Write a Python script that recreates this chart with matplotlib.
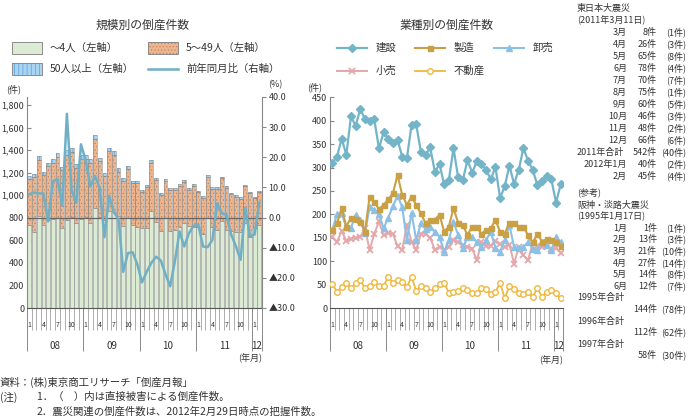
import matplotlib
matplotlib.use('Agg')
import matplotlib.pyplot as plt
import matplotlib.transforms as mtransforms
import numpy as np
from matplotlib.patches import Rectangle
from matplotlib.lines import Line2D
from matplotlib.ticker import FuncFormatter

plt.rcParams['font.family'] = ['Noto Sans CJK JP', 'DejaVu Sans']
plt.rcParams['hatch.linewidth'] = 0.5

# ---------------- data ----------------
years = ["08", "09", "10", "11", "12"]
year_months = [12, 12, 12, 12, 2]
month_marks = ["1", "4", "7", "10"]

# 規模別 (件)
small = [735, 675, 815, 735, 780, 785, 800, 710, 780, 805, 755, 790,
         808, 750, 883, 808, 780, 862, 853, 815, 730, 797, 735, 720,
         708, 708, 862, 760, 685, 795, 680, 695, 720, 750, 725, 720,
         715, 660, 795, 720, 690, 775, 690, 680, 670, 673, 750, 630,
         705, 735]
mid = [405, 485, 495, 445, 480, 505, 540, 510, 575, 575, 490, 535,
       512, 540, 612, 492, 390, 528, 507, 395, 395, 438, 370, 390,
       322, 362, 428, 375, 320, 335, 370, 355, 365, 370, 320, 365,
       310, 315, 370, 335, 365, 375, 375, 328, 318, 295, 333, 388,
       268, 293]
large = [30, 30, 35, 30, 30, 30, 30, 30, 45, 40, 35, 35,
         40, 30, 40, 30, 30, 30, 30, 30, 25, 25, 25, 20,
         20, 20, 20, 15, 15, 15, 15, 15, 15, 15, 15, 15,
         15, 15, 15, 15, 15, 15, 15, 12, 12, 12, 12, 12,
         12, 12]
# 前年同月比 (%)
yoy = [7.7, 8.3, 8.0, 8.0, -1.3, 11.9, 12.8, 4.0, 34.4, 9.0, 5.0, 24.3,
       19.0, 10.3, 13.8, 9.7, -6.5, 7.2, 1.8, -0.5, -18.0, -11.8, -11.5, -15.5,
       -21.5, -18.0, -15.0, -13.0, -14.2, -18.8, -22.8, -14.5, -4.6, -9.6, -5.2, -2.7,
       -2.4, -9.6, -9.8, -7.4, 4.7, 1.4, 0.9, -5.7, -9.5, -14.0, 3.3, -6.3,
       -5.6, 5.0]

# 業種別 (件)
kensetsu = [310, 323, 362, 327, 409, 389, 425, 403, 400, 403, 341, 375,
            362, 352, 359, 323, 320, 391, 392, 334, 327, 343, 291, 307,
            264, 273, 341, 279, 273, 316, 289, 313, 307, 295, 275, 301,
            235, 260, 304, 265, 295, 341, 315, 295, 263, 272, 281, 275,
            225, 264]
seizo = [166, 181, 213, 174, 193, 191, 184, 163, 238, 227, 211, 220,
         232, 245, 284, 241, 220, 238, 220, 202, 181, 188, 189, 199,
         163, 174, 213, 182, 177, 156, 174, 172, 159, 166, 170, 188,
         163, 159, 182, 182, 174, 174, 155, 140, 158, 142, 147, 145,
         141, 132]
oroshi = [167, 200, 202, 172, 171, 199, 189, 160, 216, 210, 200, 170,
          193, 217, 240, 215, 145, 203, 145, 181, 168, 174, 163, 152,
          120, 145, 184, 156, 129, 151, 151, 141, 130, 145, 163, 129,
          120, 145, 177, 130, 129, 130, 141, 127, 124, 141, 134, 124,
          151, 140]
kouri = [152, 141, 165, 143, 148, 150, 152, 170, 124, 158, 185, 155,
         160, 158, 132, 124, 178, 141, 124, 159, 159, 150, 124, 130,
         124, 131, 145, 140, 135, 131, 127, 102, 140, 133, 133, 143,
         136, 131, 135, 95, 130, 113, 102, 140, 132, 130, 135, 125,
         128, 118]
fudosan = [51, 35, 44, 54, 42, 53, 60, 42, 47, 55, 47, 47,
           67, 53, 59, 56, 44, 67, 36, 47, 42, 35, 42, 51,
           53, 33, 35, 37, 42, 39, 31, 31, 42, 40, 30, 35,
           53, 21, 46, 40, 33, 30, 35, 24, 42, 24, 35, 39,
           31, 21]

# 震災関連
east_months = ["3月", "4月", "5月", "6月", "7月", "8月", "9月", "10月", "11月", "12月"]
east_counts = [8, 26, 65, 78, 70, 75, 60, 46, 48, 66]
east_direct = [1, 3, 8, 4, 7, 1, 5, 3, 2, 6]
east_extra_labels = ["2012年1月", "2月"]
east_extra_counts = [40, 45]
east_extra_direct = [2, 4]
east_total = (542, 40)
hanshin_months = ["1月", "2月", "3月", "4月", "5月", "6月"]
hanshin_counts = [1, 13, 21, 27, 14, 12]
hanshin_direct = [1, 3, 10, 14, 8, 7]
hanshin_years = ["1995年合計", "1996年合計", "1997年合計"]
hanshin_year_counts = [144, 112, 58]
hanshin_year_direct = [78, 62, 30]

# ---------------- figure ----------------
W, H = 695, 420
fig = plt.figure(figsize=(W / 100, H / 100), dpi=100)
TXT = '#333333'


def fx(x):
    return x / W


def fy(y):
    return 1 - y / H


def ftext(x, y, s, size=7.5, ha='left', va='center', **kw):
    fig.text(fx(x), fy(y), s, fontsize=size, ha=ha, va=va, color=TXT, **kw)


n = len(small)
x = np.arange(n)

GREEN = '#dcebd3'
ORANGE = '#ecb691'
ORANGE_H = '#c98358'
BLUE = '#a9d4f2'
BLUE_H = '#5b9fd6'
EDGE = '#8a8a8a'


def setup_xaxis(ax):
    ax.set_xlim(-0.5, n - 0.5)
    bounds = [-0.5]
    c = -0.5
    for m in year_months:
        c += m
        bounds.append(c)
    ax.set_xticks(bounds)
    ax.set_xticks(np.arange(-0.5, n, 1.0), minor=True)
    ax.tick_params(axis='x', which='major', length=31, width=0.7, color='#8a8a8a',
                   direction='out', labelbottom=False)
    ax.tick_params(axis='x', which='minor', length=16, width=0.6, color='#a0a0a0',
                   direction='out', labelbottom=False)
    tr = mtransforms.blended_transform_factory(ax.transData, fig.transFigure)
    start = 0
    for yl, m in zip(years, year_months):
        for k, lab in zip([0, 3, 6, 9], month_marks):
            if k < m:
                ax.text(start + k, fy(325), lab, transform=tr, fontsize=5,
                        ha='center', va='center', color=TXT)
        ax.text(start + (m - 1) / 2, fy(346), yl, transform=tr, fontsize=7,
                ha='center', va='center', color=TXT)
        start += m
    ax.spines['bottom'].set_color('#555555')
    ax.spines['bottom'].set_linewidth(0.8)


# ---------------- left chart ----------------
ax1 = fig.add_axes([fx(27), fy(308), (261.7 - 27) / W, (308 - 97) / H])
bw = 0.82
b_mid = np.array(small)
b_large = np.array(small) + np.array(mid)
ax1.bar(x, small, width=bw, color=GREEN, edgecolor=EDGE, linewidth=0.4, zorder=2)
ax1.bar(x, mid, bottom=b_mid, width=bw, color=ORANGE, edgecolor=ORANGE_H,
        linewidth=0, hatch='.....', zorder=2)
ax1.bar(x, mid, bottom=b_mid, width=bw, color='none', edgecolor=EDGE, linewidth=0.4, zorder=2)
ax1.bar(x, large, bottom=b_large, width=bw, color=BLUE, edgecolor=BLUE_H,
        linewidth=0, hatch='||||', zorder=2)
ax1.bar(x, large, bottom=b_large, width=bw, color='none', edgecolor=EDGE, linewidth=0.4, zorder=2)
ax1.axhline(800, color='#666666', lw=0.9, zorder=3)
ax1.set_ylim(0, 1871)
ax1.set_yticks(np.arange(0, 1801, 200))
ax1.yaxis.set_major_formatter(FuncFormatter(lambda v, p: f"{int(v):,}"))
ax1.tick_params(axis='y', direction='in', length=3, labelsize=6.5, pad=2,
                color='#888888', labelcolor=TXT)
ax1.spines['top'].set_visible(False)
ax1.spines['right'].set_visible(False)
ax1.spines['left'].set_color('#888888')
setup_xaxis(ax1)

ax2 = ax1.twinx()
ax2.plot(x, yoy, color='#6fb0c6', lw=1.8, zorder=5, solid_joinstyle='round')
ax2.set_ylim(-30, 40)
ax2.set_yticks(np.arange(-30, 41, 10))
ax2.yaxis.set_major_formatter(FuncFormatter(
    lambda v, p: (f"▲{-v:.1f}" if v < 0 else f"{v:.1f}")))
ax2.tick_params(axis='y', direction='out', length=3, labelsize=6.5, pad=2,
                color='#888888', labelcolor=TXT)
for s in ['top', 'left', 'bottom']:
    ax2.spines[s].set_visible(False)
ax2.spines['right'].set_color('#888888')

ftext(143, 25, "規模別の倒産件数", size=8.5, ha='center')
ftext(14, 89, "(件)", size=6.5, ha='center')
ftext(275, 85, "(%)", size=6.5, ha='center')
ftext(262, 358, "(年月)", size=6.5, ha='right')


def legend_rect(x0, y0, color, hatch=None, hcolor=None):
    w, h = 30, 12
    if hatch:
        fig.add_artist(Rectangle((fx(x0), fy(y0 + h)), w / W, h / H, transform=fig.transFigure,
                                 facecolor=color, edgecolor=hcolor, linewidth=0, hatch=hatch))
        fig.add_artist(Rectangle((fx(x0), fy(y0 + h)), w / W, h / H, transform=fig.transFigure,
                                 facecolor='none', edgecolor=EDGE, linewidth=0.7))
    else:
        fig.add_artist(Rectangle((fx(x0), fy(y0 + h)), w / W, h / H, transform=fig.transFigure,
                                 facecolor=color, edgecolor=EDGE, linewidth=0.7))


legend_rect(12, 41.5, GREEN)
ftext(50, 47.5, "～4人（左軸）")
legend_rect(148, 41.5, ORANGE, '.....', ORANGE_H)
ftext(186, 47.5, "5～49人（左軸）")
legend_rect(12, 63, BLUE, '||||', BLUE_H)
ftext(50, 69, "50人以上（左軸）")
fig.add_artist(Line2D([fx(148), fx(178)], [fy(69), fy(69)], color='#6fb0c6', lw=1.8,
                      transform=fig.transFigure))
ftext(186, 69, "前年同月比（右軸）")

# ---------------- right chart ----------------
ax3 = fig.add_axes([fx(330), fy(308), 233 / W, (308 - 97.3) / H])
series = [
    (fudosan, '不動産', dict(color='#efb83e', marker='o', ms=4, mfc='white', mec='#efb83e', mew=1.0, lw=1.3)),
    (kouri, '小売', dict(color='#e4a7aa', marker='x', ms=4, mew=1.3, lw=1.4)),
    (oroshi, '卸売', dict(color='#8cc0e4', marker='^', ms=4.2, lw=1.5)),
    (seizo, '製造', dict(color='#c9a144', marker='s', ms=3.6, lw=1.5)),
    (kensetsu, '建設', dict(color='#73b4c8', marker='D', ms=3.6, lw=1.6)),
]
for vals, lab, st in series:
    ax3.plot(x, vals, zorder=3, **st)
ax3.set_ylim(0, 450)
ax3.set_yticks(np.arange(0, 451, 50))
ax3.tick_params(axis='y', direction='in', length=3, labelsize=6.5, pad=2,
                color='#888888', labelcolor=TXT)
ax3.spines['top'].set_visible(False)
ax3.spines['right'].set_visible(False)
ax3.spines['left'].set_color('#888888')
setup_xaxis(ax3)

ftext(447, 25, "業種別の倒産件数", size=8.5, ha='center')
ftext(315, 87, "(件)", size=6.5, ha='center')
ftext(563, 360, "(年月)", size=6.5, ha='right')

style_by_name = {lab: st for _, lab, st in series}
leg_pos = [('建設', 337, 48), ('製造', 415, 48), ('卸売', 494, 48),
           ('小売', 337, 71), ('不動産', 415, 71)]
for lab, lx, ly in leg_pos:
    st = dict(style_by_name[lab])
    fig.add_artist(Line2D([fx(lx), fx(lx + 30)], [fy(ly), fy(ly)], color=st['color'],
                          lw=st['lw'], transform=fig.transFigure))
    mk = {k: v for k, v in st.items() if k not in ('lw',)}
    fig.add_artist(Line2D([fx(lx + 15)], [fy(ly)], linestyle='none',
                          transform=fig.transFigure, **mk))
    ftext(lx + 39, ly, lab)

# ---------------- right text block ----------------
FS = 6.5
XM, XC, XP = 627, 657, 686
step = 12.0
ftext(577, 8, "東日本大震災", size=FS)
ftext(577, 8 + step, "(2011年3月11日)", size=FS)
yy = 8 + 2 * step
for m, c, d in zip(east_months, east_counts, east_direct):
    ftext(XM, yy, m, size=FS, ha='right')
    ftext(XC, yy, f"{c}件", size=FS, ha='right')
    ftext(XP, yy, f"({d}件)", size=FS, ha='right')
    yy += step
ftext(577, yy, "2011年合計", size=FS)
ftext(XC, yy, f"{east_total[0]}件", size=FS, ha='right')
ftext(XP, yy, f"({east_total[1]}件)", size=FS, ha='right')
yy += step
for m, c, d in zip(east_extra_labels, east_extra_counts, east_extra_direct):
    ftext(XM, yy, m, size=FS, ha='right')
    ftext(XC, yy, f"{c}件", size=FS, ha='right')
    ftext(XP, yy, f"({d}件)", size=FS, ha='right')
    yy += step

step2 = 11.6
ftext(577, 192, "(参考)", size=FS)
yy = 205
ftext(577, yy, "阪神・淡路大震災", size=FS)
yy += step2
ftext(577, yy, "(1995年1月17日)", size=FS)
yy += step2
for m, c, d in zip(hanshin_months, hanshin_counts, hanshin_direct):
    ftext(XM, yy, m, size=FS, ha='right')
    ftext(XC, yy, f"{c}件", size=FS, ha='right')
    ftext(XP, yy, f"({d}件)", size=FS, ha='right')
    yy += step2
for lab, c, d in zip(hanshin_years, hanshin_year_counts, hanshin_year_direct):
    ftext(577, yy, lab, size=FS)
    yy += step2
    ftext(XC, yy, f"{c}件", size=FS, ha='right')
    ftext(XP, yy, f"({d}件)", size=FS, ha='right')
    yy += step2

# ---------------- footer ----------------
ftext(0, 382, "資料：(株)東京商工リサーチ「倒産月報」")
ftext(0, 397, "(注)")
ftext(37, 397, "1．（　）内は直接被害による倒産件数。")
ftext(37, 412, "2．震災関連の倒産件数は、2012年2月29日時点の把握件数。")

fig.savefig('out.png', dpi=100)
